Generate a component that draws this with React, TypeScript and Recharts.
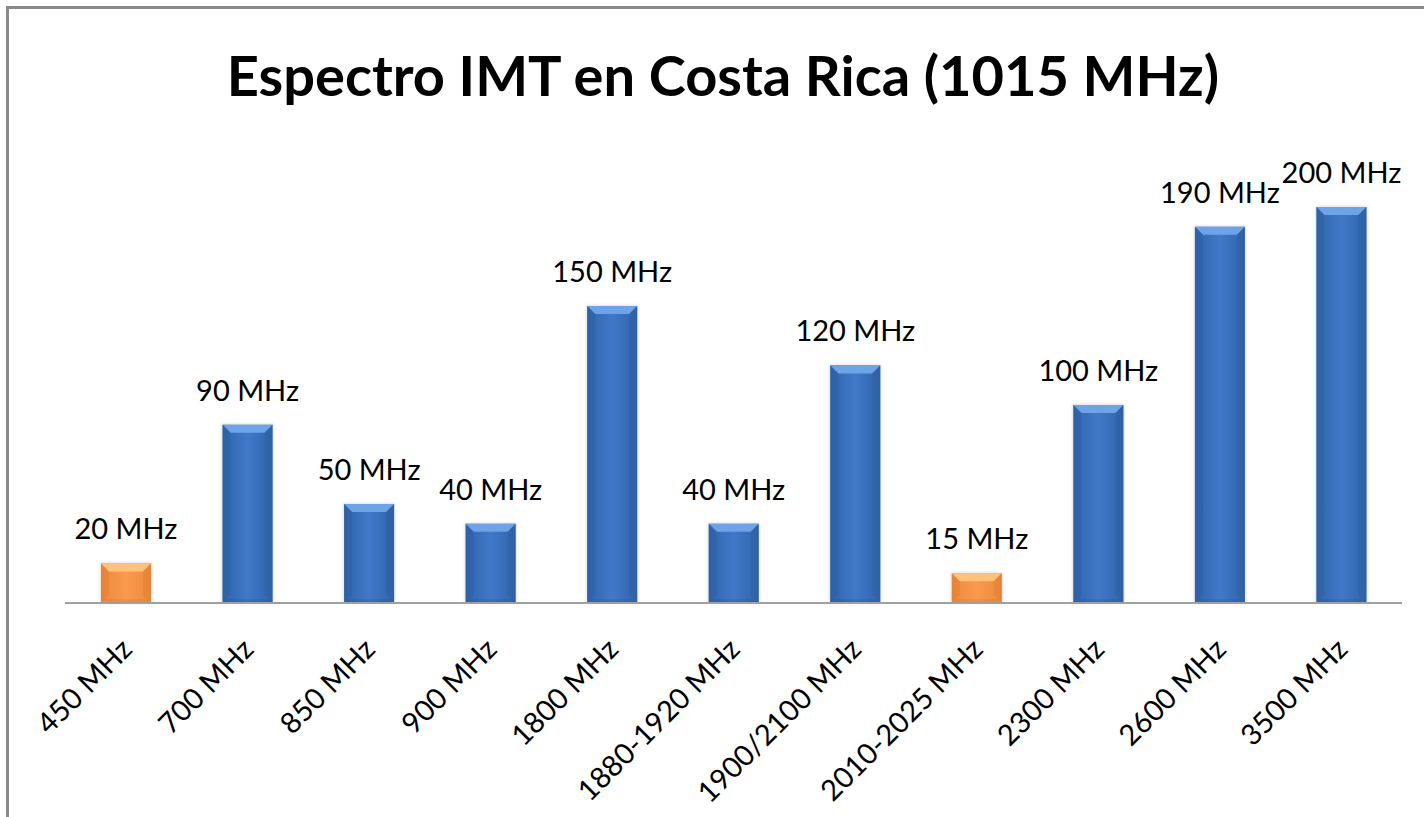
import React from 'react';
import { BarChart, Bar, XAxis, YAxis, LabelList } from 'recharts';

const categories = ['450 MHz', '700 MHz', '850 MHz', '900 MHz', '1800 MHz', '1880-1920 MHz', '1900/2100 MHz', '2010-2025 MHz', '2300 MHz', '2600 MHz', '3500 MHz'];
const values = [20, 90, 50, 40, 150, 40, 120, 15, 100, 190, 200];
const groups = ['orange', 'blue', 'blue', 'blue', 'blue', 'blue', 'blue', 'orange', 'blue', 'blue', 'blue'];
const valueLabels = values.map((v) => `${v} MHz`);
const title = 'Espectro IMT en Costa Rica (1015 MHz)';

const data = categories.map((c, i) => ({ name: c, value: values[i], group: groups[i], label: valueLabels[i] }));

const FONT = 'Lato, "Open Sans", sans-serif';

const palette: Record<string, { top: string; side: string; bottom: string }> = {
  blue: { top: '#6EA3E8', side: '#2E5E9F', bottom: '#2A5796' },
  orange: { top: '#FFC27C', side: '#E07E32', bottom: '#D87630' },
};

const BevelBar = (props: any) => {
  const { x, y, width, height, payload } = props;
  if (!height || height <= 0) return null;
  const p = palette[payload.group];
  const b = Math.min(8, height / 2, width / 2);
  const gid = payload.group === 'orange' ? 'gradO' : 'gradB';
  return (
    <g>
      <rect x={x - 1} y={y - 1} width={width + 2} height={height + 1} fill="#000" opacity={0.12} filter="url(#shadow)" />
      <rect x={x} y={y} width={width} height={height} fill={`url(#${gid})`} />
      <polygon points={`${x},${y} ${x + width},${y} ${x + width - b},${y + b} ${x + b},${y + b}`} fill={p.top} />
      <polygon points={`${x},${y} ${x + b},${y + b} ${x + b},${y + height - b} ${x},${y + height}`} fill={p.side} opacity={0.5} />
      <polygon points={`${x + width},${y} ${x + width - b},${y + b} ${x + width - b},${y + height - b} ${x + width},${y + height}`} fill={p.side} opacity={0.5} />
      <polygon points={`${x},${y + height} ${x + b / 2},${y + height - b / 2} ${x + width - b / 2},${y + height - b / 2} ${x + width},${y + height}`} fill={p.bottom} opacity={0.3} />
    </g>
  );
};

const ValueLabel = (props: any) => {
  const { x, y, width, value } = props;
  return (
    <text x={x + width / 2} y={y - 24} textAnchor="middle" fontSize={29} fontFamily={FONT} fill="#000">
      {value}
    </text>
  );
};

const RotTick = (props: any) => {
  const { x, y, payload } = props;
  return (
    <g transform={`translate(${x + 8},${y + 40})`}>
      <text textAnchor="end" transform="rotate(-45)" fontSize={29} fontFamily={FONT} fill="#000">
        {payload.value}
      </text>
    </g>
  );
};

export default function App() {
  return (
    <div style={{ position: 'absolute', left: 0, top: 0, width: 1424, height: 817, background: '#fff', overflow: 'hidden' }}>
      <div style={{ position: 'absolute', left: 6, top: 6, right: -10, bottom: -10, borderLeft: '3px solid #8a8a8a', borderTop: '3px solid #8a8a8a' }} />
      <svg width={1424} height={130} style={{ position: 'absolute', left: 0, top: 0 }}>
        <text x={723} y={96} textAnchor="middle" fontSize={56} fontWeight={700} fontFamily={FONT} fill="#000">
          {title}
        </text>
      </svg>
      <div style={{ position: 'absolute', left: 0, top: 0 }}>
        <BarChart width={1424} height={817} data={data} margin={{ top: 207, left: 65, right: 22, bottom: 0 }} barSize={50}>
          <defs>
            <linearGradient id="gradB" x1="0" y1="0" x2="1" y2="0">
              <stop offset="0%" stopColor="#3065AC" />
              <stop offset="50%" stopColor="#4079C8" />
              <stop offset="100%" stopColor="#3065AC" />
            </linearGradient>
            <linearGradient id="gradO" x1="0" y1="0" x2="1" y2="0">
              <stop offset="0%" stopColor="#EE8A3C" />
              <stop offset="50%" stopColor="#F99A4C" />
              <stop offset="100%" stopColor="#EE8A3C" />
            </linearGradient>
            <filter id="shadow" x="-20%" y="-20%" width="140%" height="140%">
              <feGaussianBlur stdDeviation="1.5" />
            </filter>
          </defs>
          <YAxis hide domain={[0, 200]} />
          <XAxis
            dataKey="name"
            interval={0}
            height={214}
            tickLine={false}
            axisLine={{ stroke: '#a0a0a0', strokeWidth: 2 }}
            tick={<RotTick />}
          />
          <Bar dataKey="value" shape={<BevelBar />} isAnimationActive={false}>
            <LabelList dataKey="label" content={<ValueLabel />} />
          </Bar>
        </BarChart>
      </div>
    </div>
  );
}
